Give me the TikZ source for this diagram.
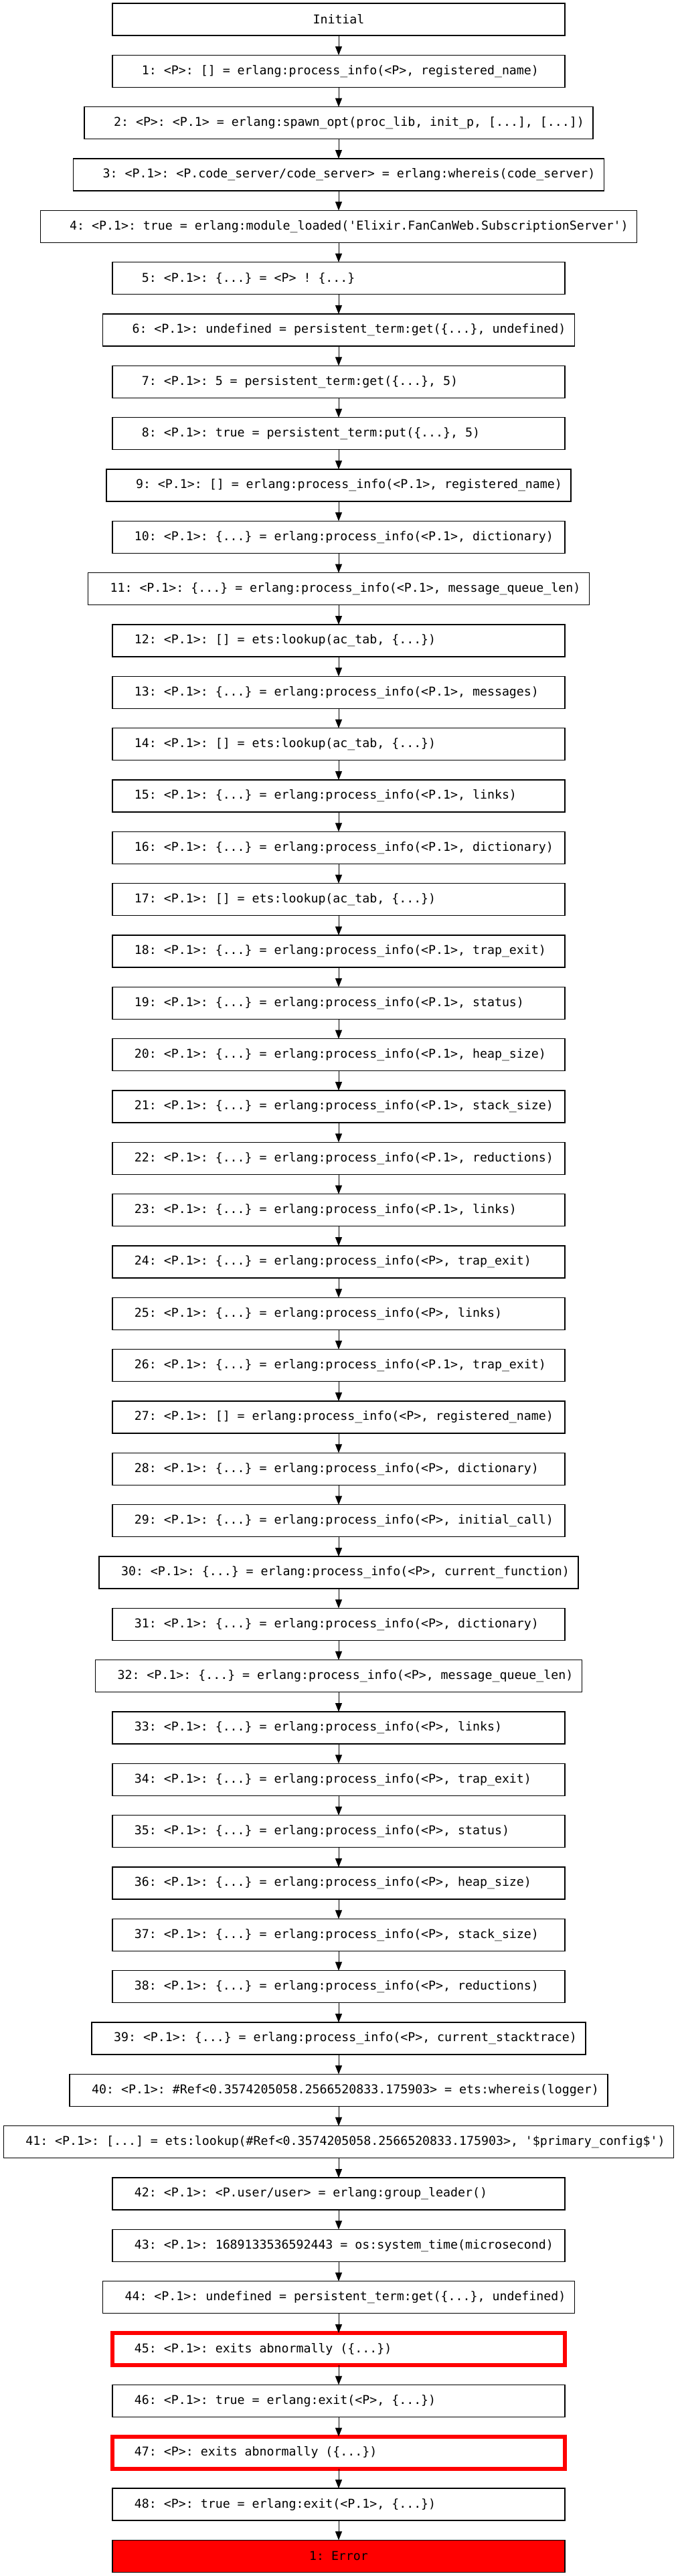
\documentclass[tikz,border=0pt]{standalone}
\usepackage{fontspec}
\setmonofont{DejaVu Sans Mono}
\usepackage{tikz}
\usetikzlibrary{positioning,arrows.meta}

\newlength\calllen
\newcommand\calltext[1]{%
  \settowidth\calllen{\hspace*{16.5pt}#1\hspace*{6.5pt}}%
  \ifdim\calllen<338pt\setlength\calllen{338pt}\fi
  \makebox[\calllen][l]{\hspace*{16.5pt}#1}}

\begin{document}
\begin{tikzpicture}[node distance=14.667pt,
	callbox/.style={draw,line width=0.65pt,minimum width=338pt,minimum height=24pt,
		inner xsep=0pt,inner ysep=0pt,outer sep=0pt,
		font=\ttfamily\fontsize{9.12pt}{11pt}\selectfont\frenchspacing},
	failbox/.style={callbox,draw=red,line width=3pt},
	errbox/.style={callbox,fill=red},
	flow/.style={line width=0.5pt,-{Triangle[length=6.5pt,width=5pt]}}]

	\useasboundingbox (-253pt,14.5pt) rectangle (253pt,-1909.5pt);

	\node[callbox] (ev0) at (0,0) {Initial};
	\node[callbox,below=of ev0] (ev1) {\calltext{\ 1: <P>: [] = erlang:process\_info(<P>, registered\_name)}};
	\node[callbox,below=of ev1] (ev2) {\calltext{\ 2: <P>: <P.1> = erlang:spawn\_opt(proc\_lib, init\_p, [...], [...])}};
	\node[callbox,below=of ev2] (ev3) {\calltext{\ 3: <P.1>: <P.code\_server/code\_server> = erlang:whereis(code\_server)}};
	\node[callbox,below=of ev3] (ev4) {\calltext{\ 4: <P.1>: true = erlang:module\_loaded('Elixir.FanCanWeb.SubscriptionServer')}};
	\node[callbox,below=of ev4] (ev5) {\calltext{\ 5: <P.1>: \{...\} = <P> ! \{...\}}};
	\node[callbox,below=of ev5] (ev6) {\calltext{\ 6: <P.1>: undefined = persistent\_term:get(\{...\}, undefined)}};
	\node[callbox,below=of ev6] (ev7) {\calltext{\ 7: <P.1>: 5 = persistent\_term:get(\{...\}, 5)}};
	\node[callbox,below=of ev7] (ev8) {\calltext{\ 8: <P.1>: true = persistent\_term:put(\{...\}, 5)}};
	\node[callbox,below=of ev8] (ev9) {\calltext{\ 9: <P.1>: [] = erlang:process\_info(<P.1>, registered\_name)}};
	\node[callbox,below=of ev9] (ev10) {\calltext{10: <P.1>: \{...\} = erlang:process\_info(<P.1>, dictionary)}};
	\node[callbox,below=of ev10] (ev11) {\calltext{11: <P.1>: \{...\} = erlang:process\_info(<P.1>, message\_queue\_len)}};
	\node[callbox,below=of ev11] (ev12) {\calltext{12: <P.1>: [] = ets:lookup(ac\_tab, \{...\})}};
	\node[callbox,below=of ev12] (ev13) {\calltext{13: <P.1>: \{...\} = erlang:process\_info(<P.1>, messages)}};
	\node[callbox,below=of ev13] (ev14) {\calltext{14: <P.1>: [] = ets:lookup(ac\_tab, \{...\})}};
	\node[callbox,below=of ev14] (ev15) {\calltext{15: <P.1>: \{...\} = erlang:process\_info(<P.1>, links)}};
	\node[callbox,below=of ev15] (ev16) {\calltext{16: <P.1>: \{...\} = erlang:process\_info(<P.1>, dictionary)}};
	\node[callbox,below=of ev16] (ev17) {\calltext{17: <P.1>: [] = ets:lookup(ac\_tab, \{...\})}};
	\node[callbox,below=of ev17] (ev18) {\calltext{18: <P.1>: \{...\} = erlang:process\_info(<P.1>, trap\_exit)}};
	\node[callbox,below=of ev18] (ev19) {\calltext{19: <P.1>: \{...\} = erlang:process\_info(<P.1>, status)}};
	\node[callbox,below=of ev19] (ev20) {\calltext{20: <P.1>: \{...\} = erlang:process\_info(<P.1>, heap\_size)}};
	\node[callbox,below=of ev20] (ev21) {\calltext{21: <P.1>: \{...\} = erlang:process\_info(<P.1>, stack\_size)}};
	\node[callbox,below=of ev21] (ev22) {\calltext{22: <P.1>: \{...\} = erlang:process\_info(<P.1>, reductions)}};
	\node[callbox,below=of ev22] (ev23) {\calltext{23: <P.1>: \{...\} = erlang:process\_info(<P.1>, links)}};
	\node[callbox,below=of ev23] (ev24) {\calltext{24: <P.1>: \{...\} = erlang:process\_info(<P>, trap\_exit)}};
	\node[callbox,below=of ev24] (ev25) {\calltext{25: <P.1>: \{...\} = erlang:process\_info(<P>, links)}};
	\node[callbox,below=of ev25] (ev26) {\calltext{26: <P.1>: \{...\} = erlang:process\_info(<P.1>, trap\_exit)}};
	\node[callbox,below=of ev26] (ev27) {\calltext{27: <P.1>: [] = erlang:process\_info(<P>, registered\_name)}};
	\node[callbox,below=of ev27] (ev28) {\calltext{28: <P.1>: \{...\} = erlang:process\_info(<P>, dictionary)}};
	\node[callbox,below=of ev28] (ev29) {\calltext{29: <P.1>: \{...\} = erlang:process\_info(<P>, initial\_call)}};
	\node[callbox,below=of ev29] (ev30) {\calltext{30: <P.1>: \{...\} = erlang:process\_info(<P>, current\_function)}};
	\node[callbox,below=of ev30] (ev31) {\calltext{31: <P.1>: \{...\} = erlang:process\_info(<P>, dictionary)}};
	\node[callbox,below=of ev31] (ev32) {\calltext{32: <P.1>: \{...\} = erlang:process\_info(<P>, message\_queue\_len)}};
	\node[callbox,below=of ev32] (ev33) {\calltext{33: <P.1>: \{...\} = erlang:process\_info(<P>, links)}};
	\node[callbox,below=of ev33] (ev34) {\calltext{34: <P.1>: \{...\} = erlang:process\_info(<P>, trap\_exit)}};
	\node[callbox,below=of ev34] (ev35) {\calltext{35: <P.1>: \{...\} = erlang:process\_info(<P>, status)}};
	\node[callbox,below=of ev35] (ev36) {\calltext{36: <P.1>: \{...\} = erlang:process\_info(<P>, heap\_size)}};
	\node[callbox,below=of ev36] (ev37) {\calltext{37: <P.1>: \{...\} = erlang:process\_info(<P>, stack\_size)}};
	\node[callbox,below=of ev37] (ev38) {\calltext{38: <P.1>: \{...\} = erlang:process\_info(<P>, reductions)}};
	\node[callbox,below=of ev38] (ev39) {\calltext{39: <P.1>: \{...\} = erlang:process\_info(<P>, current\_stacktrace)}};
	\node[callbox,below=of ev39] (ev40) {\calltext{40: <P.1>: \#Ref<0.3574205058.2566520833.175903> = ets:whereis(logger)}};
	\node[callbox,below=of ev40] (ev41) {\calltext{41: <P.1>: [...] = ets:lookup(\#Ref<0.3574205058.2566520833.175903>, '\$primary\_config\$')}};
	\node[callbox,below=of ev41] (ev42) {\calltext{42: <P.1>: <P.user/user> = erlang:group\_leader()}};
	\node[callbox,below=of ev42] (ev43) {\calltext{43: <P.1>: 1689133536592443 = os:system\_time(microsecond)}};
	\node[callbox,below=of ev43] (ev44) {\calltext{44: <P.1>: undefined = persistent\_term:get(\{...\}, undefined)}};
	\node[failbox,below=of ev44] (ev45) {\calltext{45: <P.1>: exits abnormally (\{...\})}};
	\node[callbox,below=of ev45] (ev46) {\calltext{46: <P.1>: true = erlang:exit(<P>, \{...\})}};
	\node[failbox,below=of ev46] (ev47) {\calltext{47: <P>: exits abnormally (\{...\})}};
	\node[callbox,below=of ev47] (ev48) {\calltext{48: <P>: true = erlang:exit(<P.1>, \{...\})}};
	\node[errbox,below=of ev48] (err) {1: Error};

	% one arrow between each pair of steps
	\draw[flow] (ev0) -- (ev1);   \draw[flow] (ev1) -- (ev2);   \draw[flow] (ev2) -- (ev3);
	\draw[flow] (ev3) -- (ev4);   \draw[flow] (ev4) -- (ev5);   \draw[flow] (ev5) -- (ev6);
	\draw[flow] (ev6) -- (ev7);   \draw[flow] (ev7) -- (ev8);   \draw[flow] (ev8) -- (ev9);
	\draw[flow] (ev9) -- (ev10);  \draw[flow] (ev10) -- (ev11); \draw[flow] (ev11) -- (ev12);
	\draw[flow] (ev12) -- (ev13); \draw[flow] (ev13) -- (ev14); \draw[flow] (ev14) -- (ev15);
	\draw[flow] (ev15) -- (ev16); \draw[flow] (ev16) -- (ev17); \draw[flow] (ev17) -- (ev18);
	\draw[flow] (ev18) -- (ev19); \draw[flow] (ev19) -- (ev20); \draw[flow] (ev20) -- (ev21);
	\draw[flow] (ev21) -- (ev22); \draw[flow] (ev22) -- (ev23); \draw[flow] (ev23) -- (ev24);
	\draw[flow] (ev24) -- (ev25); \draw[flow] (ev25) -- (ev26); \draw[flow] (ev26) -- (ev27);
	\draw[flow] (ev27) -- (ev28); \draw[flow] (ev28) -- (ev29); \draw[flow] (ev29) -- (ev30);
	\draw[flow] (ev30) -- (ev31); \draw[flow] (ev31) -- (ev32); \draw[flow] (ev32) -- (ev33);
	\draw[flow] (ev33) -- (ev34); \draw[flow] (ev34) -- (ev35); \draw[flow] (ev35) -- (ev36);
	\draw[flow] (ev36) -- (ev37); \draw[flow] (ev37) -- (ev38); \draw[flow] (ev38) -- (ev39);
	\draw[flow] (ev39) -- (ev40); \draw[flow] (ev40) -- (ev41); \draw[flow] (ev41) -- (ev42);
	\draw[flow] (ev42) -- (ev43); \draw[flow] (ev43) -- (ev44); \draw[flow] (ev44) -- (ev45);
	\draw[flow] (ev45) -- (ev46); \draw[flow] (ev46) -- (ev47); \draw[flow] (ev47) -- (ev48);
	\draw[flow] (ev48) -- (err);

\end{tikzpicture}
\end{document}
